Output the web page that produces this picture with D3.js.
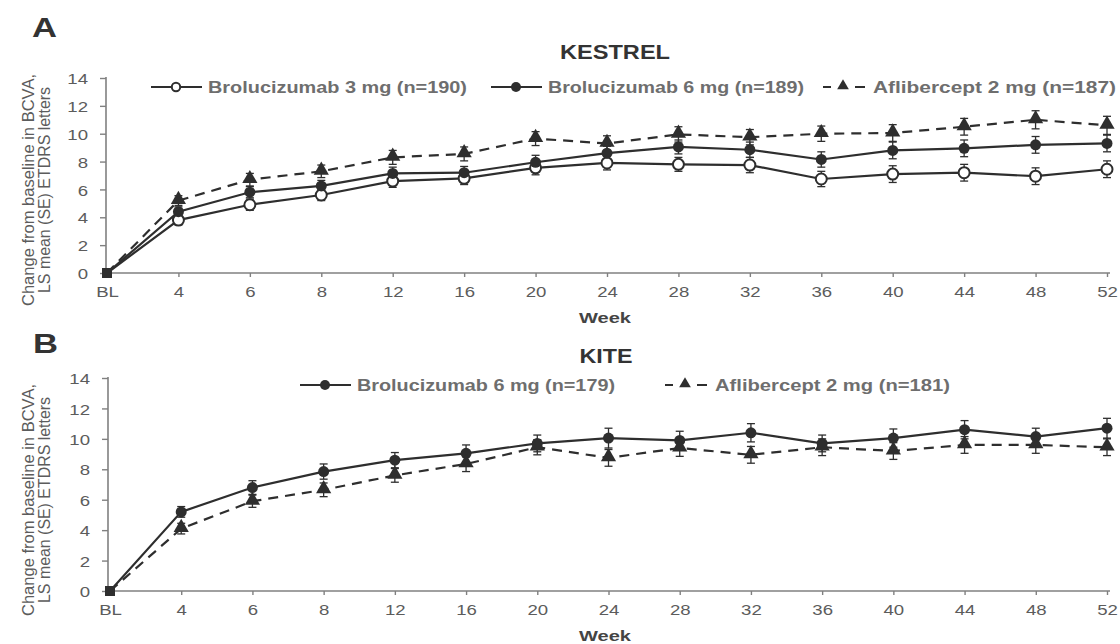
<!DOCTYPE html>
<html>
<head>
<meta charset="utf-8">
<script src="https://cdn.jsdelivr.net/npm/d3@7"></script>
<style>
  body { margin: 0; background: #fff; }
  svg { display: block; font-family: "Liberation Sans", Arial, sans-serif; }
</style>
</head>
<body>
<svg id="svg1" width="1120" height="644"></svg>
<script>
// week categories shared by both panels
var weeks = ["BL", "4", "6", "8", "12", "16", "20", "24", "28", "32", "36", "40", "44", "48", "52"];
var yTicks = [0, 2, 4, 6, 8, 10, 12, 14];

// KESTREL (panel A)
var kestrelBro3 = [0, 3.8, 4.9, 5.6, 6.6, 6.8, 7.55, 7.9, 7.8, 7.75, 6.75, 7.1, 7.2, 6.95, 7.45];
var kestrelBro3SE = [0, 0.35, 0.4, 0.4, 0.45, 0.45, 0.5, 0.5, 0.5, 0.55, 0.55, 0.6, 0.6, 0.6, 0.6];
var kestrelBro6 = [0, 4.4, 5.8, 6.25, 7.15, 7.2, 7.95, 8.6, 9.05, 8.85, 8.15, 8.8, 8.95, 9.2, 9.3];
var kestrelBro6SE = [0, 0.35, 0.4, 0.4, 0.45, 0.45, 0.5, 0.5, 0.5, 0.55, 0.55, 0.6, 0.6, 0.6, 0.6];
var kestrelAfli = [0, 5.2, 6.7, 7.3, 8.3, 8.55, 9.65, 9.3, 9.95, 9.75, 10.0, 10.05, 10.5, 11.0, 10.6];
var kestrelAfliSE = [0, 0.35, 0.45, 0.45, 0.5, 0.5, 0.5, 0.55, 0.55, 0.55, 0.55, 0.6, 0.6, 0.65, 0.65];

// KITE (panel B)
var kiteBro6 = [0, 5.2, 6.8, 7.85, 8.6, 9.05, 9.7, 10.05, 9.9, 10.4, 9.7, 10.05, 10.6, 10.15, 10.7];
var kiteBro6SE = [0, 0.35, 0.45, 0.5, 0.5, 0.55, 0.55, 0.65, 0.6, 0.6, 0.55, 0.6, 0.6, 0.55, 0.65];
var kiteAfli = [0, 4.1, 5.9, 6.65, 7.6, 8.35, 9.45, 8.75, 9.4, 8.95, 9.45, 9.2, 9.6, 9.6, 9.45];
var kiteAfliSE = [0, 0.35, 0.4, 0.45, 0.45, 0.5, 0.5, 0.55, 0.55, 0.55, 0.55, 0.55, 0.55, 0.55, 0.55];

var ink = "#2e2e2e";
var axisGrey = "#808080";
var textGrey = "#5c5c5c";
var stretch = 1.2;   // the source figure is a bit wide, so text is stretched sideways

var svg = d3.select("#svg1");

function marker(g, type, x, y, r) {
    if (type == "open") {
        g.append("circle").attr("cx", x).attr("cy", y).attr("r", r)
            .attr("fill", "#fff").attr("stroke", ink).attr("stroke-width", 2);
    } else if (type == "filled") {
        g.append("circle").attr("cx", x).attr("cy", y).attr("r", r)
            .attr("fill", ink);
    } else {
        g.append("path")
            .attr("d", d3.symbol().type(d3.symbolTriangle).size(r * r * 3.2)())
            .attr("transform", "translate(" + x + "," + (y - 1) + ")")
            .attr("fill", ink);
    }
}

// text with a fixed drawn width
function wideText(g, x, y, str, size, len, weight, color, anchor) {
    return g.append("text").attr("x", x).attr("y", y)
        .attr("text-anchor", anchor || "start")
        .attr("textLength", len).attr("lengthAdjust", "spacingAndGlyphs")
        .style("font-size", size + "px").style("font-weight", weight)
        .attr("fill", color).text(str);
}

function drawPanel(p) {
    var g = svg.append("g");

    var xScale = d3.scalePoint().domain(weeks).range([p.left, p.right]);
    var yScale = d3.scaleLinear().domain([0, 14]).range([p.bottom, p.top]);

    // letter + title
    wideText(g, p.letterX, p.letterY, p.letter, 28, 25, "bold", "#333");
    wideText(g, p.titleX, p.titleY, p.title, 20, p.titleLen, "bold", "#333", "middle");

    // y axis
    var yAxis = g.append("g")
        .attr("transform", "translate(" + p.axisX + ",0)")
        .call(d3.axisLeft(yScale).tickValues(yTicks).tickSize(6).tickPadding(9));
    yAxis.selectAll(".tick text").attr("dy", "0.36em");
    // x axis
    var xAxis = g.append("g")
        .attr("transform", "translate(0," + p.bottom + ")")
        .call(d3.axisBottom(xScale).tickSize(4));
    xAxis.selectAll(".tick text").attr("y", 24.5).attr("dy", null);
    xAxis.selectAll(".tick").filter(function(d) { return d == "BL"; }).select("line").remove();
    [yAxis, xAxis].forEach(function(a) {
        a.select(".domain").attr("stroke", axisGrey).attr("stroke-width", 1.6);
        a.selectAll(".tick line").attr("stroke", axisGrey).attr("stroke-width", 1.4);
        a.selectAll(".tick text").attr("fill", textGrey).style("font-size", "15.5px")
            .style("font-family", "Liberation Sans, Arial, sans-serif")
            .attr("transform", "scale(" + stretch + ",1)");
    });
    yAxis.select(".domain").attr("d", "M0," + (p.bottom + 1) + "V" + (p.top - 1));
    xAxis.select(".domain").attr("d", "M" + p.axisX + ",0H" + (p.right + 3));

    wideText(g, 605, p.bottom + 50, "Week", 15, 52, "bold", "#444", "middle");

    // y axis title
    var yt = g.append("g").attr("transform", "translate(0," + p.titleMid + ") rotate(-90)");
    wideText(yt, 0, 34, "Change from baseline in BCVA,", 17, 232, "normal", textGrey, "middle");
    wideText(yt, 0, 50, "LS mean (SE) ETDRS letters", 17, 206, "normal", textGrey, "middle");

    // series
    var line = d3.line()
        .x(function(d, i) { return xScale(weeks[i]); })
        .y(function(d) { return yScale(d); });

    p.series.forEach(function(s) {
        var sg = g.append("g");
        sg.append("path").datum(s.values)
            .attr("d", line)
            .attr("fill", "none")
            .attr("stroke", ink)
            .attr("stroke-width", 2.2)
            .attr("stroke-dasharray", s.type == "tri" ? "10,7" : null);

        // error bars
        s.values.forEach(function(v, i) {
            if (s.se[i] == 0) return;
            var x = xScale(weeks[i]);
            var y1 = yScale(v + s.se[i]);
            var y2 = yScale(v - s.se[i]);
            sg.append("line").attr("x1", x).attr("x2", x).attr("y1", y1).attr("y2", y2)
                .attr("stroke", ink).attr("stroke-width", 1.3);
            [y1, y2].forEach(function(yy) {
                sg.append("line").attr("x1", x - 4).attr("x2", x + 4).attr("y1", yy).attr("y2", yy)
                    .attr("stroke", ink).attr("stroke-width", 1.3);
            });
        });
    });
    // markers drawn after all lines
    p.series.forEach(function(s) {
        s.values.forEach(function(v, i) {
            var x = xScale(weeks[i]);
            if (i == 0) {
                g.append("rect").attr("x", x - 5).attr("y", yScale(v) - 5)
                    .attr("width", 10).attr("height", 10).attr("fill", ink);
                return;
            }
            marker(g, s.type, x, yScale(v), s.type == "tri" ? 5.6 : 5.5);
        });
    });

    // legend
    p.series.forEach(function(s) {
        var lg = g.append("g");
        var x0 = s.legendX;
        var y0 = p.legendY;
        if (s.type == "tri") {
            lg.append("line").attr("x1", x0).attr("x2", x0 + 8).attr("y1", y0).attr("y2", y0)
                .attr("stroke", ink).attr("stroke-width", 2);
            lg.append("line").attr("x1", x0 + 32).attr("x2", x0 + 42).attr("y1", y0).attr("y2", y0)
                .attr("stroke", ink).attr("stroke-width", 2);
            marker(lg, "tri", x0 + 20, y0, 4.3);
            wideText(lg, x0 + 50, y0 + 6, s.name, 16, s.textLen, "bold", "#6e6e6e");
        } else {
            lg.append("line").attr("x1", x0).attr("x2", x0 + 51).attr("y1", y0).attr("y2", y0)
                .attr("stroke", ink).attr("stroke-width", 2);
            marker(lg, s.type, x0 + 25, y0, s.type == "open" ? 4.2 : 5);
            wideText(lg, x0 + 57, y0 + 6, s.name, 16, s.textLen, "bold", "#6e6e6e");
        }
    });
}

drawPanel({
    letter: "A", letterX: 32, letterY: 37,
    title: "KESTREL", titleX: 615, titleY: 59, titleLen: 110,
    left: 107, right: 1107, top: 78, bottom: 273, axisX: 106,
    legendY: 87, titleMid: 190,
    series: [
        { name: "Brolucizumab 3 mg (n=190)", type: "open", values: kestrelBro3, se: kestrelBro3SE, legendX: 151, textLen: 259 },
        { name: "Brolucizumab 6 mg (n=189)", type: "filled", values: kestrelBro6, se: kestrelBro6SE, legendX: 491, textLen: 256 },
        { name: "Aflibercept 2 mg (n=187)", type: "tri", values: kestrelAfli, se: kestrelAfliSE, legendX: 823, textLen: 243 }
    ]
});

drawPanel({
    letter: "B", letterX: 33, letterY: 353,
    title: "KITE", titleX: 606, titleY: 363, titleLen: 53,
    left: 110, right: 1107, top: 378, bottom: 591, axisX: 108,
    legendY: 385, titleMid: 500,
    series: [
        { name: "Brolucizumab 6 mg (n=179)", type: "filled", values: kiteBro6, se: kiteBro6SE, legendX: 300, textLen: 258 },
        { name: "Aflibercept 2 mg (n=181)", type: "tri", values: kiteAfli, se: kiteAfliSE, legendX: 665, textLen: 235 }
    ]
});
</script>
</body>
</html>
